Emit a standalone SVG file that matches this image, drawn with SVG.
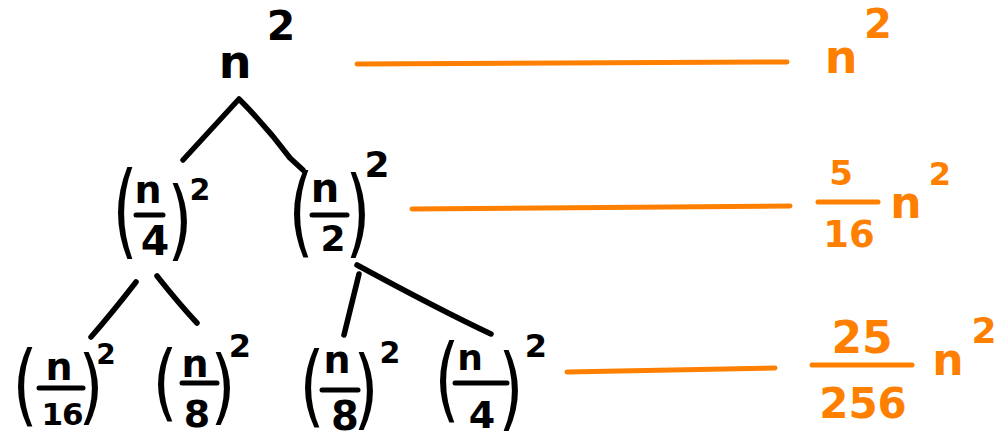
<svg xmlns="http://www.w3.org/2000/svg" width="1005" height="440" viewBox="0 0 1005 440">
<style>
  text { font-family: "DejaVu Sans", "Liberation Sans", sans-serif; font-weight: bold; text-anchor: middle; }
  .k { fill: #000; }
  .o { fill: #FF8000; }
  .par { font-family: "DejaVu Sans", sans-serif; font-weight: normal; font-size: 64px; fill: #000; }
  .bar { stroke: #000; stroke-width: 5; stroke-linecap: round; fill: none; }
  .obar { stroke: #FF8000; stroke-width: 5; stroke-linecap: round; fill: none; }
  .edge { stroke: #000; stroke-width: 5.5; stroke-linecap: round; stroke-linejoin: round; fill: none; }
  .lvl { stroke: #FF8000; stroke-width: 5; stroke-linecap: round; fill: none; }
</style>
<rect width="1005" height="440" fill="#fff"/>

<g id="connectors">
  <path class="edge" d="M183,160 L239,99 Q266,126 290,158 L303,170"/>
  <path class="edge" d="M136,282 Q112,313 91,337"/>
  <path class="edge" d="M157,276 Q180,305 197,323"/>
  <path class="edge" d="M359,274 L344,335"/>
  <path class="edge" d="M357,265 Q440,310 491,334"/>
  <path class="lvl" d="M357,64 L787,62"/>
  <path class="lvl" d="M412,209 L790,206"/>
  <path class="lvl" d="M567,372 L775,368"/>
</g>

<g id="root">
  <text class="k" x="235" y="78" font-size="46">n</text>
  <text class="k" x="281" y="40" font-size="41">2</text>
</g>

<g id="n4-level1">
  <text class="par" transform="translate(125,246.4) scale(1,1.61)">(</text>
  <text class="k" x="148" y="203" font-size="38">n</text>
  <line class="bar" x1="136" y1="215" x2="163" y2="215"/>
  <text class="k" x="155" y="255" font-size="41">4</text>
  <text class="par" transform="translate(180,248.6) scale(1,1.35)">)</text>
  <text class="k" x="200" y="200" font-size="30">2</text>
</g>

<g id="n2-level1">
  <text class="par" transform="translate(301,245) scale(1,1.54)">(</text>
  <text class="k" x="325" y="202" font-size="40">n</text>
  <line class="bar" x1="312" y1="215" x2="347" y2="215"/>
  <text class="k" x="333" y="251" font-size="36">2</text>
  <text class="par" transform="translate(358,245.4) scale(1,1.49)">)</text>
  <text class="k" x="377" y="177" font-size="36">2</text>
</g>

<g id="n16-level2">
  <text class="par" transform="translate(25,415.3) scale(1,1.38)">(</text>
  <text class="k" x="59" y="380" font-size="38">n</text>
  <line class="bar" x1="39" y1="388" x2="83" y2="388"/>
  <text class="k" x="62" y="425" font-size="31" letter-spacing="-1">16</text>
  <text class="par" transform="translate(91,414.2) scale(1,1.28)">)</text>
  <text class="k" x="106" y="364" font-size="28">2</text>
</g>

<g id="n8a-level2">
  <text class="par" transform="translate(165,411) scale(1,1.30)">(</text>
  <text class="k" x="195" y="377" font-size="38">n</text>
  <line class="bar" x1="182" y1="383" x2="217" y2="383"/>
  <text class="k" x="197" y="427" font-size="38">8</text>
  <text class="par" transform="translate(223,414.2) scale(1,1.28)">)</text>
  <text class="k" x="240" y="357" font-size="32">2</text>
</g>

<g id="n8b-level2">
  <text class="par" transform="translate(312,416.2) scale(1,1.40)">(</text>
  <text class="k" x="337" y="373" font-size="38">n</text>
  <line class="bar" x1="322" y1="390" x2="358" y2="390"/>
  <text class="k" x="345" y="430" font-size="40">8</text>
  <text class="par" transform="translate(366,418.4) scale(1,1.37)">)</text>
  <text class="k" x="390" y="363" font-size="30">2</text>
</g>

<g id="n4-level2">
  <text class="par" transform="translate(447,410.7) scale(1,1.45)">(</text>
  <text class="k" x="470" y="370" font-size="36">n</text>
  <line class="bar" x1="455" y1="383" x2="507" y2="383"/>
  <text class="k" x="482" y="428" font-size="38">4</text>
  <text class="par" transform="translate(511,419) scale(1,1.42)">)</text>
  <text class="k" x="536" y="357" font-size="32">2</text>
</g>

<g id="sum-level0">
  <text class="o" x="841" y="73" font-size="46">n</text>
  <text class="o" x="878" y="38" font-size="40">2</text>
</g>

<g id="sum-level1">
  <text class="o" x="841" y="185" font-size="34">5</text>
  <line class="obar" x1="818" y1="202" x2="878" y2="202"/>
  <text class="o" x="849" y="247" font-size="37">16</text>
  <text class="o" x="906" y="218" font-size="44">n</text>
  <text class="o" x="940" y="185" font-size="32">2</text>
</g>

<g id="sum-level2">
  <text class="o" x="862" y="353" font-size="44">25</text>
  <line class="obar" x1="812" y1="365" x2="912" y2="365"/>
  <text class="o" x="863" y="418" font-size="42">256</text>
  <text class="o" x="948" y="375" font-size="44">n</text>
  <text class="o" x="984" y="343" font-size="36">2</text>
</g>
</svg>
